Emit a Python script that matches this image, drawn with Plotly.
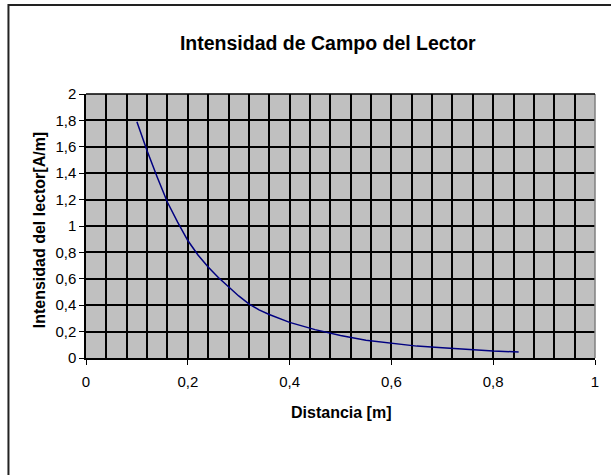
import plotly.graph_objects as go

# Field strength of the reader versus distance
distancia_m = [0.10, 0.12, 0.14, 0.16, 0.18, 0.20, 0.22, 0.24, 0.26, 0.28,
               0.30, 0.32, 0.34, 0.36, 0.38, 0.40, 0.45, 0.50, 0.55, 0.60,
               0.65, 0.70, 0.75, 0.80, 0.85]
intensidad_am = [1.79, 1.57, 1.37, 1.18, 1.03, 0.89, 0.78, 0.69, 0.61, 0.54,
                 0.47, 0.41, 0.365, 0.33, 0.297, 0.27, 0.215, 0.17, 0.135, 0.11,
                 0.09, 0.078, 0.065, 0.053, 0.045]

x_ticks = [0, 0.2, 0.4, 0.6, 0.8, 1]
y_ticks = [0, 0.2, 0.4, 0.6, 0.8, 1, 1.2, 1.4, 1.6, 1.8, 2]

W, H = 611, 475
ML, MR, MT, MB = 86, 13, 94, 117
PW, PH = W - ML - MR, H - MT - MB

FONT = "Liberation Sans, Arial, sans-serif"

fig = go.Figure()
fig.add_trace(go.Scatter(
    x=distancia_m, y=intensidad_am, mode="lines",
    line=dict(color="#000080", width=1.5), showlegend=False,
))

axis_common = dict(
    showgrid=True, gridcolor="black", gridwidth=1.6,
    zeroline=False, showline=True, linecolor="black", linewidth=1.5,
    ticks="outside", ticklen=5, tickcolor="black", tickwidth=1,
    tickfont=dict(family=FONT, size=15, color="black"),
)

fig.update_xaxes(
    range=[0, 1], tickvals=x_ticks, **axis_common,
    minor=dict(dtick=0.04, tick0=0, showgrid=True, gridcolor="black",
               gridwidth=1.6, ticks=""),
    ticklabelstandoff=4,
)
fig.update_yaxes(range=[0, 2], tickvals=y_ticks, **axis_common)

px = lambda p: (p - ML) / PW
py = lambda p: (H - MB - p) / PH

fig.update_layout(
    width=W, height=H,
    margin=dict(l=ML, r=MR, t=MT, b=MB, pad=0),
    paper_bgcolor="white", plot_bgcolor="#C0C0C0",
    separators=", ",
    font=dict(family=FONT, color="black"),
    title=dict(text="<b>Intensidad de Campo del Lector</b>",
               x=327.8 / W, xanchor="center", y=1 - 43 / H, yanchor="middle",
               font=dict(family=FONT, size=19.5, color="black")),
    annotations=[
        dict(text="<b>Distancia [m]</b>", xref="paper", yref="paper",
             x=px(342), y=py(412), xanchor="center", yanchor="middle",
             showarrow=False, font=dict(family=FONT, size=16, color="black")),
        dict(text="<b>Intensidad del lector[A/m]</b>", xref="paper", yref="paper",
             x=px(39), y=py(230), xanchor="center", yanchor="middle",
             textangle=-90, showarrow=False,
             font=dict(family=FONT, size=16, color="black")),
    ],
    shapes=[
        # right edge of the plot area
        dict(type="line", xref="paper", yref="paper", x0=1, x1=1, y0=0, y1=1,
             line=dict(color="#808080", width=1.5)),
        # top edge of the plot area
        dict(type="line", xref="paper", yref="paper", x0=0, x1=1, y0=1, y1=1,
             line=dict(color="black", width=1.5)),
        # chart frame
        dict(type="rect", xref="paper", yref="paper",
             x0=px(8), x1=px(640), y0=py(500), y1=py(5),
             line=dict(color="#222222", width=2), layer="below"),
    ],
)

fig.write_html("out.html")
